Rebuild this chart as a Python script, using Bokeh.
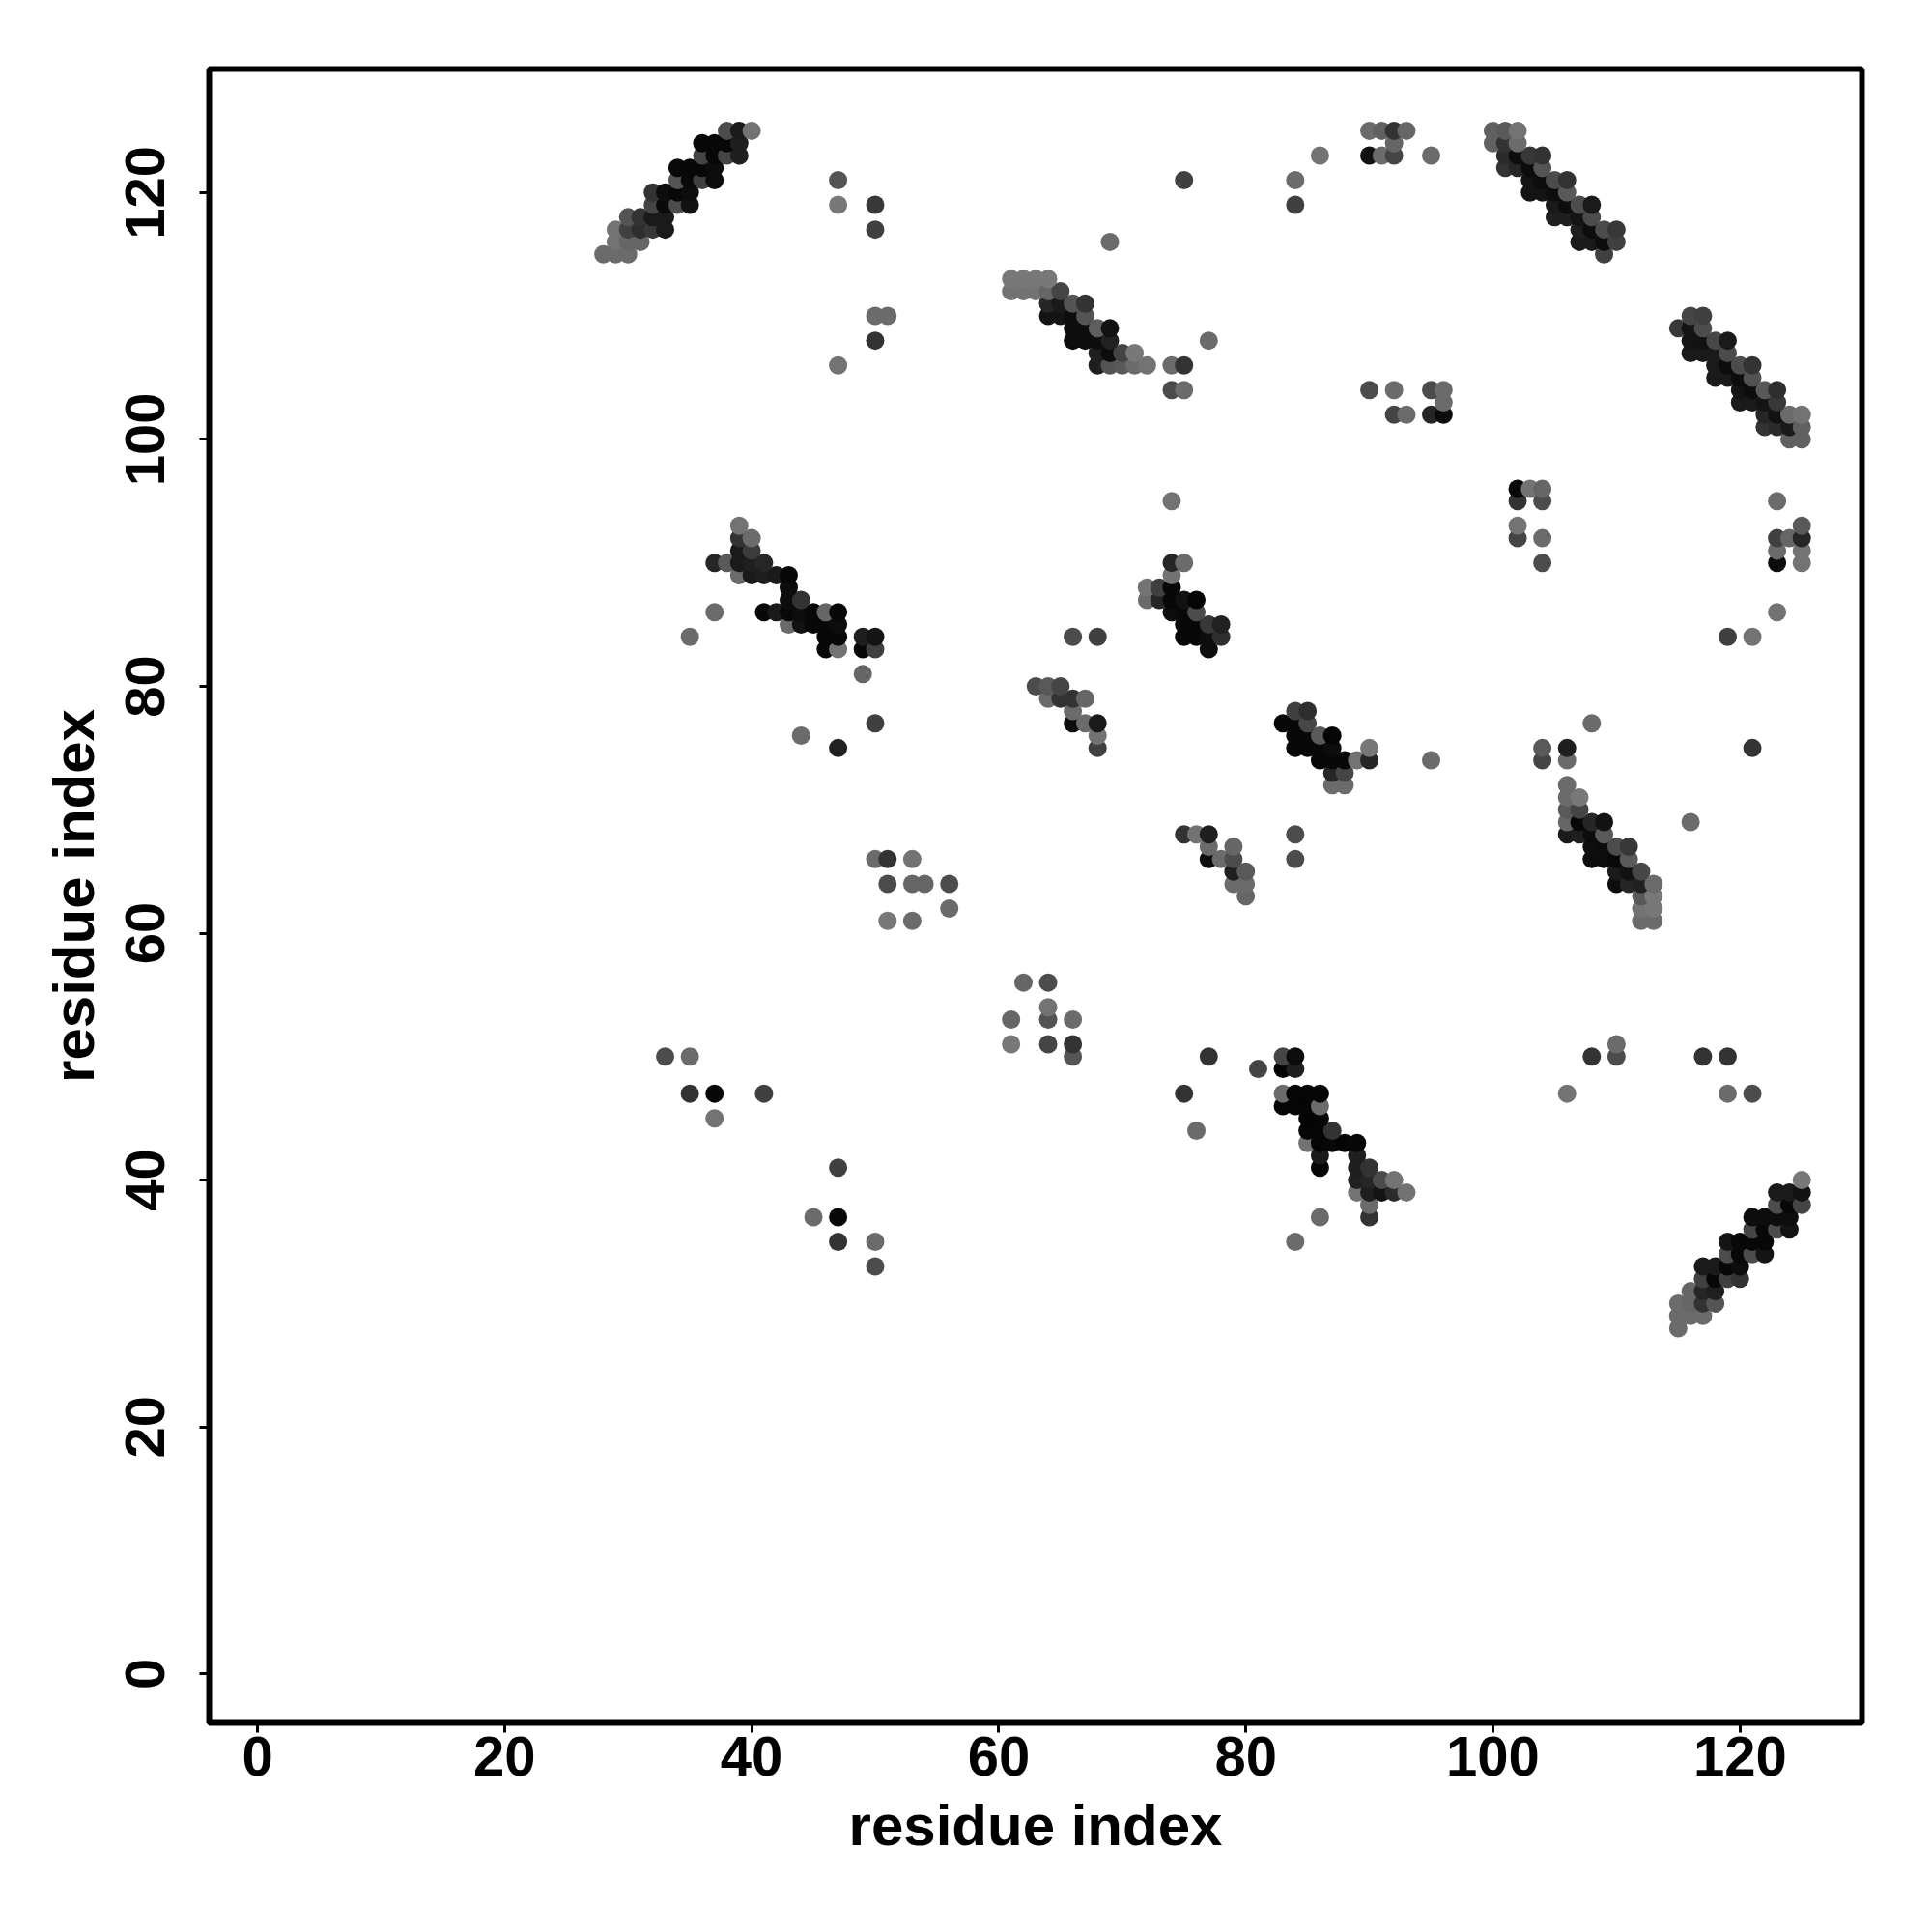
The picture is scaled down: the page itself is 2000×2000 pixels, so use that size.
from bokeh.plotting import figure
from bokeh.models import ColumnDataSource, FixedTicker
from bokeh.embed import file_html
from bokeh.resources import INLINE

# (residue i, residue j, grey level of the point 0=black 1=white)
strand_a = [(38,125,.3),(39,125,.1),(40,125,.45),(36,124,.03),(37,124,.03),(38,124,.03),(39,124,.12),
 (36,123,.27),(37,123,.03),(38,123,.27),(39,123,.12),(34,122,.04),(35,122,.03),(36,122,.03),(37,122,.05),
 (34,121,.33),(35,121,.04),(36,121,.25),(37,121,.05),(32,120,.2),(33,120,.05),(34,120,.03),(35,120,.05),
 (32,119,.27),(33,119,.04),(34,119,.3),(35,119,.07),(30,118,.33),(31,118,.2),(32,118,.1),(33,118,.1),
 (29,117,.45),(30,117,.25),(31,117,.18),(32,117,.22),(33,117,.1),(29,116,.45),(30,116,.4),(31,116,.4),
 (28,115,.42),(29,115,.42),(30,115,.42)]
strand_b = [(61,113,.47),(62,113,.47),(63,113,.47),(64,113,.47),(61,112,.45),(62,112,.45),(63,112,.45),(64,112,.4),(65,112,.27),
 (64,111,.15),(65,111,.1),(66,111,.33),(67,111,.2),(64,110,.08),(65,110,.08),(66,110,.05),(67,110,.33),
 (66,109,.05),(67,109,.05),(68,109,.37),(69,109,.07),(66,108,.05),(67,108,.05),(68,108,.05),(69,108,.13),
 (68,107,.12),(69,107,.05),(70,107,.27),(71,107,.47),(68,106,.12),(69,106,.33),(70,106,.35),(71,106,.42),(72,106,.45),
 (74,106,.42),(75,106,.2),(74,104,.3),(75,104,.42),(77,108,.42)]
strand_c = [(100,125,.38),(101,125,.35),(102,125,.45),(100,124,.38),(101,124,.2),(102,124,.42),
 (101,123,.17),(102,123,.05),(103,123,.22),(104,123,.2),(101,122,.2),(102,122,.15),(103,122,.05),(104,122,.33),
 (103,121,.08),(104,121,.05),(105,121,.3),(106,121,.2),(103,120,.08),(104,120,.08),(105,120,.05),(106,120,.35),
 (105,119,.1),(106,119,.05),(107,119,.3),(108,119,.1),(105,118,.12),(106,118,.12),(107,118,.08),(108,118,.3),
 (107,117,.12),(108,117,.05),(109,117,.3),(110,117,.22),(107,116,.1),(108,116,.1),(109,116,.05),(110,116,.25),(109,115,.25)]
strand_d = [(116,110,.27),(117,110,.25),(115,109,.22),(116,109,.08),(117,109,.3),(116,108,.08),(117,108,.07),(118,108,.28),(119,108,.1),
 (116,107,.1),(117,107,.1),(118,107,.1),(119,107,.3),(118,106,.1),(119,106,.05),(120,106,.3),(121,106,.2),
 (118,105,.1),(119,105,.1),(120,105,.05),(121,105,.32),(120,104,.08),(121,104,.05),(122,104,.35),(123,104,.18),
 (120,103,.1),(121,103,.1),(122,103,.08),(123,103,.22),(122,102,.15),(123,102,.07),(124,102,.42),(125,102,.45),
 (122,101,.2),(123,101,.17),(124,101,.1),(125,101,.38),(124,100,.38),(125,100,.38)]
strand_e = [(37,90,.15),(38,90,.35),(39,93,.45),(39,92,.2),(39,91,.1),(39,90,.1),(39,89,.42),(40,92,.42),(40,91,.23),(40,90,.12),(40,89,.1),
 (41,90,.15),(41,89,.12),(42,89,.1),(43,89,.03),(43,88,.05),(43,87,.05),(44,87,.2),(37,86,.42),(35,84,.42),
 (41,86,.03),(42,86,.1),(43,86,.03),(44,86,.05),(45,86,.03),(46,86,.4),(47,86,.03),(43,85,.42),(44,85,.07),(45,85,.03),(46,85,.03),(47,85,.05),
 (46,84,.03),(47,84,.03),(46,83,.03),(47,83,.45),(49,84,.12),(50,84,.08),(49,83,.03),(50,83,.25),(49,81,.4)]
strand_f = [(74,90,.15),(75,90,.42),(74,89,.45),(72,88,.45),(73,88,.25),(74,88,.03),(72,87,.42),(73,87,.15),(74,87,.03),(75,87,.07),(76,87,.02),
 (74,86,.05),(75,86,.03),(76,86,.3),(75,85,.03),(76,85,.03),(77,85,.22),(78,85,.13),(75,84,.03),(76,84,.03),(77,84,.05),(78,84,.18),(77,83,.05)]
strand_g = [(84,78,.25),(85,78,.18),(83,77,.03),(84,77,.03),(85,77,.28),(84,76,.03),(85,76,.03),(86,76,.35),(87,76,.02),
 (84,75,.03),(85,75,.03),(86,75,.03),(87,75,.05),(86,74,.03),(87,74,.03),(88,74,.03),(89,74,.45),(90,74,.15),(90,75,.47),
 (87,73,.15),(88,73,.27),(87,72,.42),(88,72,.42)]
strand_h = [(106,72,.42),(106,71,.42),(107,71,.47),(106,70,.35),(107,70,.27),(106,69,.4),(107,69,.03),(108,69,.15),(109,69,.07),
 (106,68,.1),(107,68,.12),(108,68,.05),(109,68,.35),(108,67,.06),(109,67,.05),(110,67,.3),(111,67,.22),
 (108,66,.05),(109,66,.05),(110,66,.03),(111,66,.35),(110,65,.1),(111,65,.07),(112,65,.28),
 (110,64,.05),(111,64,.15),(112,64,.13),(113,64,.42),(112,63,.35),(113,63,.47),(112,62,.45),(113,62,.47),(112,61,.42),(113,61,.42)]
strand_i = [(83,50,.27),(84,50,.05),(83,49,.02),(84,49,.12),(83,47,.42),(84,47,.02),(85,47,.02),(86,47,.02),(83,46,.02),(84,46,.02),(85,46,.02),(86,46,.42),
 (85,45,.02),(86,45,.02),(85,44,.02),(86,44,.02),(87,44,.2),(85,43,.45),(86,43,.02),(87,43,.03),(88,43,.02),(89,43,.03),
 (86,42,.1),(86,41,.02),(89,42,.12),(89,41,.12),(90,41,.2),(89,40,.13),(90,40,.15),(91,40,.3),(92,40,.45),
 (89,39,.45),(90,39,.12),(91,39,.08),(92,39,.17),(93,39,.45),(90,38,.42),(90,37,.2),(86,37,.42)]
strand_j = [(125,40,.47),(123,39,.1),(124,39,.1),(125,39,.07),(123,38,.3),(124,38,.03),(125,38,.27),(121,37,.05),(122,37,.05),(123,37,.05),(124,37,.05),
 (121,36,.27),(122,36,.03),(123,36,.3),(124,36,.08),(119,35,.08),(120,35,.03),(121,35,.03),(122,35,.03),(119,34,.3),(120,34,.03),(121,34,.3),(122,34,.08),
 (117,33,.1),(118,33,.1),(119,33,.03),(120,33,.05),(117,32,.25),(118,32,.03),(119,32,.25),(120,32,.2),(116,31,.4),(117,31,.15),(118,31,.12),
 (115,30,.42),(116,30,.4),(117,30,.2),(118,30,.33),(115,29,.42),(116,29,.42),(117,29,.42),(115,28,.42)]
upper_contacts = [(90,125,.42),(91,125,.38),(92,125,.2),(93,125,.4),(92,124,.4),(90,123,.07),(91,123,.42),(92,123,.27),(95,123,.42),
 (47,121,.33),(47,119,.47),(50,119,.22),(50,117,.25),(69,116,.42),(50,110,.42),(51,110,.42),(50,108,.2),(47,106,.45),
 (75,121,.25),(84,121,.42),(84,119,.25),(86,123,.45),
 (90,104,.3),(92,104,.42),(92,102,.27),(93,102,.42),(95,104,.3),(96,104,.42),(96,103,.42),(95,102,.15),(96,102,.05),
 (74,95,.45),(102,96,.03),(103,96,.45),(104,96,.4),(102,95,.2),(104,95,.3),(102,93,.45),(102,92,.27),(104,92,.42),(104,90,.3),
 (123,95,.42),(123,92,.25),(124,92,.4),(125,92,.15),(125,93,.35),(123,91,.42),(125,91,.45),(123,90,.05),(125,90,.45),(123,86,.45),
 (119,84,.25),(121,84,.45),(66,84,.3),(68,84,.25)]
middle_contacts = [(63,80,.3),(64,80,.35),(65,80,.27),(64,79,.42),(65,79,.2),(66,79,.2),(67,79,.4),(66,78,.42),(66,77,.05),(67,77,.42),(68,77,.1),(68,76,.45),(68,75,.25),
 (44,76,.42),(47,75,.13),(50,77,.25),(95,74,.42),(104,75,.35),(104,74,.27),(106,75,.12),(106,74,.42),(108,77,.42),(121,75,.2),(116,69,.42),
 (75,68,.2),(76,68,.45),(77,68,.12),(77,67,.42),(77,66,.05),(78,66,.42),(79,67,.4),(79,66,.3),(79,65,.12),(80,65,.35),(79,64,.42),(80,64,.42),(80,63,.4),
 (84,68,.3),(84,66,.3),(50,66,.42),(51,66,.2),(53,66,.45),(51,64,.3),(53,64,.4),(54,64,.4),(56,64,.3),(56,62,.42),(51,61,.47),(53,61,.42)]
lower_contacts = [(62,56,.4),(64,56,.3),(64,54,.45),(64,53,.33),(66,53,.42),(61,53,.4),(61,51,.47),(64,51,.27),(66,51,.2),(66,50,.33),
 (33,50,.3),(35,50,.42),(35,47,.2),(37,47,.03),(41,47,.25),(37,45,.45),(75,47,.2),(76,44,.42),(77,50,.2),(81,49,.27),
 (47,41,.25),(47,37,.03),(45,37,.42),(47,35,.2),(50,35,.42),(50,33,.3),(84,35,.42),
 (106,47,.45),(108,50,.2),(110,51,.42),(110,50,.3),(117,50,.2),(119,50,.2),(119,47,.42),(121,47,.3)]
tick_values = [0, 20, 40, 60, 80, 100, 120]
axis_title = "residue index"

points = sorted(strand_a + strand_b + strand_c + strand_d + strand_e + strand_f + strand_g + strand_h
                + strand_i + strand_j + upper_contacts + middle_contacts + lower_contacts,
                key=lambda t: (t[1], t[0]))

def grey(g):
    v = int(round(g * 255))
    return f"#{v:02x}{v:02x}{v:02x}"

src = ColumnDataSource(dict(x=[t[0] for t in points], y=[t[1] for t in points],
                            c=[grey(t[2]) for t in points]))

p = figure(frame_width=1711, frame_height=1712, x_range=(-3.91, 129.87), y_range=(-3.97, 130.0),
           output_backend="svg", toolbar_location=None,
           min_border_left=216, min_border_right=65, min_border_top=71, min_border_bottom=209)
p.background_fill_color = "white"
p.border_fill_color = "white"
p.grid.visible = False
p.outline_line_color = "black"
p.outline_line_width = 6
p.outline_line_alpha = 1

p.scatter("x", "y", source=src, size=19, fill_color="c", line_color=None, marker="circle")

for ax in (p.xaxis[0], p.yaxis[0]):
    ax.ticker = FixedTicker(ticks=tick_values)
    ax.axis_line_color = None
    ax.major_tick_line_color = "black"
    ax.major_tick_line_width = 3
    ax.major_tick_in = 0
    ax.major_tick_out = 10
    ax.minor_tick_line_color = None
    ax.axis_label = axis_title
    ax.axis_label_text_font = "Liberation Sans"
    ax.axis_label_text_font_style = "bold"
    ax.axis_label_text_font_size = "60px"
    ax.axis_label_text_color = "black"
    ax.major_label_text_font = "Liberation Sans"
    ax.major_label_text_font_style = "bold"
    ax.major_label_text_font_size = "58px"
    ax.major_label_text_color = "black"
p.xaxis[0].major_label_standoff = 4
p.xaxis[0].axis_label_standoff = 15
p.yaxis[0].major_label_standoff = 36
p.yaxis[0].major_label_orientation = "parallel"
p.yaxis[0].axis_label_standoff = 18

open("out.html", "w").write(file_html(p, INLINE))
